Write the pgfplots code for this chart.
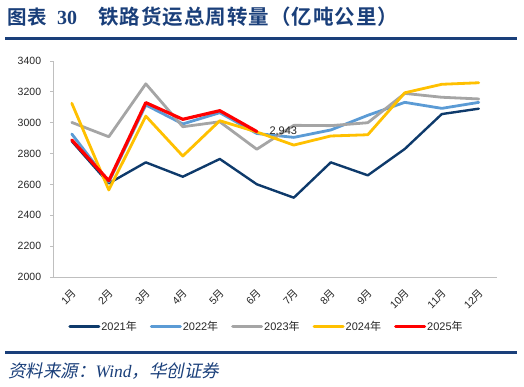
\documentclass[border=0pt]{standalone}
\usepackage{fontspec}
\usepackage{pgfplots}
\pgfplotsset{compat=1.18}
\setmainfont{Liberation Sans}
\newfontfamily\cjk{Noto Sans CJK SC}
\newfontfamily\cjkbold{Noto Sans CJK SC Bold}[LetterSpace=5.0]
\newfontfamily\cjkit{Noto Sans CJK SC}[FakeSlant=0.2]
\newfontfamily\timesf{Liberation Serif}
\definecolor{titleblue}{HTML}{1A3F7A}
\definecolor{c2021}{HTML}{0E3A6B}
\definecolor{c2022}{HTML}{5B9BD5}
\definecolor{c2023}{HTML}{A5A5A5}
\definecolor{c2024}{HTML}{FFC000}
\definecolor{c2025}{HTML}{FF0000}
\definecolor{axgray}{HTML}{BFBFBF}
\newcommand\yue{{\cjk 月}}
\newcommand\nian{{\cjk 年}}
\begin{document}
\begin{tikzpicture}
\useasboundingbox (0bp,0bp) rectangle (524bp,387bp);
% title
\node[anchor=west, text=titleblue, inner sep=0] at (7bp,370bp)
  {\fontsize{19.5bp}{22bp}\selectfont\cjkbold 图表\hspace{10bp}{\timesf\bfseries\fontsize{20bp}{22bp}\selectfont 30}\hspace{21bp}{\fontsize{20.5bp}{22bp}\selectfont 铁路货运总周转量（亿吨公里）}};
\draw[titleblue, line width=2.5bp] (5bp,348.5bp) -- (517bp,348.5bp);
\draw[titleblue, line width=2.5bp] (5bp,34.7bp) -- (517bp,34.7bp);
\node[anchor=west, text=titleblue, inner sep=0] at (8bp,16bp)
  {\fontsize{17.5bp}{19bp}\selectfont\cjkit 资料来源：{\timesf\itshape Wind}，华创证券};
\begin{axis}[
  at={(53.3bp,110bp)}, anchor=south west,
  scale only axis, width=444bp, height=216bp,
  xmin=-0.5, xmax=11.5, ymin=2000, ymax=3400,
  axis lines*=left,
  axis line style={draw=axgray, line width=0.8bp},
  xtick={0,...,11},
  xticklabels={1\yue,2\yue,3\yue,4\yue,5\yue,6\yue,7\yue,8\yue,9\yue,10\yue,11\yue,12\yue},
  ytick={2000,2200,...,3400},
  tick align=outside,
  major tick length=3bp,
  xtick style={draw=none},
  ytick style={draw=axgray, line width=0.8bp},
  /pgf/number format/assume math mode=true,
  /pgf/number format/1000 sep={},
  tick label style={font=\fontsize{10.5bp}{12bp}\selectfont, text=black!85},
  yticklabel style={inner sep=1bp, xshift=-8bp},
  xticklabel style={rotate=45, anchor=east, inner sep=1bp, yshift=-10bp, xshift=-5bp},
  legend style={at={(0.479,-0.231)}, anchor=center, draw=none, fill=none,
    legend columns=5, font=\fontsize{11bp}{13bp}\selectfont, text=black!85,
    /tikz/every even column/.append style={column sep=12bp},
    nodes={inner sep=1bp}},
  legend image code/.code={\draw[#1, line width=3bp] (0bp,0bp) -- (29bp,0bp);},
  every axis plot/.append style={line join=round, line cap=round},
  clip=false,
]
\addplot[c2021, line width=2.4bp] coordinates {(0,2880) (1,2607) (2,2743) (3,2650) (4,2765) (5,2601) (6,2514) (7,2743) (8,2659) (9,2830) (10,3056) (11,3091)};
\addlegendentry{2021\nian}
\addplot[c2022, line width=2.8bp] coordinates {(0,2927) (1,2615) (2,3115) (3,2992) (4,3065) (5,2930) (6,2905) (7,2953) (8,3048) (9,3132) (10,3093) (11,3132)};
\addlegendentry{2022\nian}
\addplot[c2023, line width=2.8bp] coordinates {(0,3002) (1,2909) (2,3252) (3,2974) (4,3006) (5,2828) (6,2983) (7,2981) (8,3000) (9,3190) (10,3165) (11,3154)};
\addlegendentry{2023\nian}
\addplot[c2024, line width=2.8bp] coordinates {(0,3126) (1,2564) (2,3043) (3,2784) (4,3013) (5,2940) (6,2855) (7,2914) (8,2922) (9,3194) (10,3249) (11,3259)};
\addlegendentry{2024\nian}
\addplot[c2025, line width=3.2bp] coordinates {(0,2888) (1,2624) (2,3130) (3,3022) (4,3078) (5,2943)};
\addlegendentry{2025\nian}
\node[anchor=west, inner sep=0, xshift=12.5bp, font=\fontsize{11bp}{13bp}\selectfont, text=black!85] at (axis cs:5,2943) {2,943};
\end{axis}
\end{tikzpicture}
\end{document}
